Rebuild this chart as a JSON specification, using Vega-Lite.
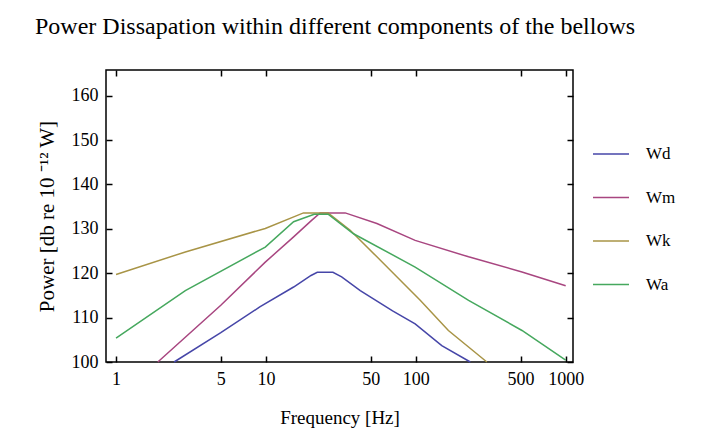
{
  "$schema": "https://vega.github.io/schema/vega-lite/v6.json",
  "width": 467,
  "height": 292,
  "autosize": {"type": "none"},
  "padding": {"left": 106, "top": 70, "right": 138, "bottom": 82},
  "background": "white",
  "title": {
    "text": "Power Dissapation within different components of the bellows",
    "anchor": "start",
    "frame": "group",
    "dx": -71,
    "offset": 30,
    "font": "Liberation Serif",
    "fontSize": 24,
    "fontWeight": "normal",
    "color": "#000000"
  },
  "data": {
    "values": [
      {"s": "Wd", "f": 2.44, "p": 100},
      {"s": "Wd", "f": 5, "p": 106.6},
      {"s": "Wd", "f": 9.1, "p": 112.4},
      {"s": "Wd", "f": 15.3, "p": 116.9},
      {"s": "Wd", "f": 20, "p": 119.5},
      {"s": "Wd", "f": 22, "p": 120.2},
      {"s": "Wd", "f": 28, "p": 120.2},
      {"s": "Wd", "f": 32, "p": 119.2},
      {"s": "Wd", "f": 42.6, "p": 116.1},
      {"s": "Wd", "f": 70, "p": 111.5},
      {"s": "Wd", "f": 99, "p": 108.6},
      {"s": "Wd", "f": 149, "p": 103.7},
      {"s": "Wd", "f": 231, "p": 100},
      {"s": "Wm", "f": 1.9, "p": 100},
      {"s": "Wm", "f": 5, "p": 112.8},
      {"s": "Wm", "f": 9.9, "p": 122.5},
      {"s": "Wm", "f": 15.3, "p": 128.2},
      {"s": "Wm", "f": 20, "p": 131.8},
      {"s": "Wm", "f": 23, "p": 133.6},
      {"s": "Wm", "f": 33.8, "p": 133.6},
      {"s": "Wm", "f": 55, "p": 131.2},
      {"s": "Wm", "f": 99, "p": 127.4},
      {"s": "Wm", "f": 225, "p": 123.7},
      {"s": "Wm", "f": 511, "p": 120.3},
      {"s": "Wm", "f": 1000, "p": 117.2},
      {"s": "Wk", "f": 1, "p": 119.7},
      {"s": "Wk", "f": 2.9, "p": 124.8},
      {"s": "Wk", "f": 9.9, "p": 130.1},
      {"s": "Wk", "f": 17.8, "p": 133.6},
      {"s": "Wk", "f": 26, "p": 133.6},
      {"s": "Wk", "f": 36.5, "p": 129.7},
      {"s": "Wk", "f": 55, "p": 123.7},
      {"s": "Wk", "f": 107, "p": 113.9},
      {"s": "Wk", "f": 165, "p": 107.1},
      {"s": "Wk", "f": 298, "p": 100},
      {"s": "Wa", "f": 1, "p": 105.4},
      {"s": "Wa", "f": 2.9, "p": 116.1},
      {"s": "Wa", "f": 9.9, "p": 125.9},
      {"s": "Wa", "f": 15.3, "p": 131.6},
      {"s": "Wa", "f": 21, "p": 133.3},
      {"s": "Wa", "f": 26, "p": 133.3},
      {"s": "Wa", "f": 38.4, "p": 128.9},
      {"s": "Wa", "f": 99, "p": 121.4},
      {"s": "Wa", "f": 225, "p": 113.9},
      {"s": "Wa", "f": 511, "p": 107.1},
      {"s": "Wa", "f": 1000, "p": 100.4}
    ]
  },
  "layer": [
    {
      "mark": {"type": "line", "strokeWidth": 1.5},
      "encoding": {
        "x": {"field": "f", "type": "quantitative", "scale": {"type": "log", "domain": [0.857, 1119], "nice": false},
          "axis": {"orient": "bottom", "values": [1, 5, 10, 50, 100, 500, 1000], "format": "d", "title": "Frequency [Hz]", "titlePadding": 20, "titleFontSize": 19}},
        "y": {"field": "p", "type": "quantitative", "scale": {"domain": [100, 165.8], "nice": false, "zero": false},
          "axis": {"orient": "left", "values": [100, 110, 120, 130, 140, 150, 160], "title": "Power [db re 10 ⁻¹² W]", "titlePadding": 14, "titleFontSize": 21}},
        "color": {
          "field": "s", "type": "nominal",
          "scale": {"domain": ["Wd", "Wm", "Wk", "Wa"], "range": ["#4646a8", "#a84680", "#a89446", "#46a85e"]},
          "legend": {
            "title": null, "orient": "none", "legendX": 486, "legendY": 65,
            "symbolType": "stroke", "symbolSize": 1296, "symbolStrokeWidth": 1.5,
            "labelFont": "Liberation Serif", "labelFontSize": 17, "labelColor": "#000000",
            "labelOffset": 16, "rowPadding": 16.5
          }
        }
      }
    },
    {
      "mark": {"type": "line", "opacity": 0},
      "encoding": {
        "x": {"field": "f", "type": "quantitative", "scale": {"type": "log", "domain": [0.857, 1119], "nice": false},
          "axis": {"orient": "top", "values": [1, 5, 10, 50, 100, 500, 1000], "labels": false, "title": null}},
        "y": {"field": "p", "type": "quantitative", "scale": {"domain": [100, 165.8], "nice": false, "zero": false},
          "axis": {"orient": "right", "values": [100, 110, 120, 130, 140, 150, 160], "labels": false, "title": null}},
        "detail": {"field": "s"}
      }
    }
  ],
  "resolve": {"axis": {"x": "independent", "y": "independent"}},
  "config": {
    "view": {"stroke": "#000000", "strokeWidth": 1.5},
    "axis": {
      "domain": false, "grid": false,
      "ticks": true, "tickSize": -6, "tickColor": "#000000", "tickWidth": 1.5,
      "labelFont": "Liberation Serif", "labelFontSize": 18, "labelColor": "#000000", "labelPadding": 14,
      "titleFont": "Liberation Serif", "titleFontSize": 16, "titleFontWeight": "normal", "titleColor": "#000000"
    }
  }
}
